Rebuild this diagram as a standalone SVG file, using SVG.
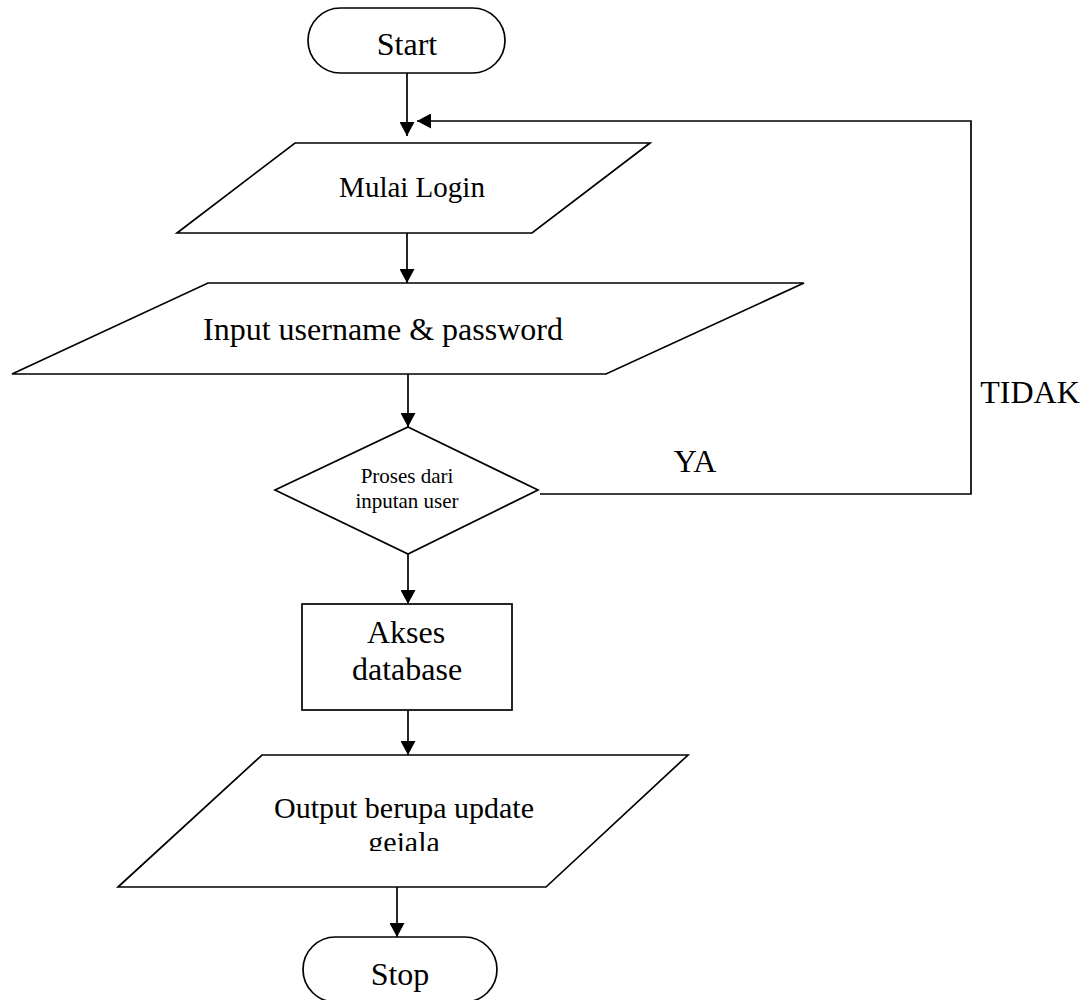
<svg xmlns="http://www.w3.org/2000/svg" width="1085" height="1000" viewBox="0 0 1085 1000">
  <style>
    .shape { fill: #ffffff; stroke: #000000; stroke-width: 1.7; stroke-linejoin: miter; }
    .wire { fill: none; stroke: #000000; stroke-width: 1.7; marker-end: url(#head); }
    .wire-plain { fill: none; stroke: #000000; stroke-width: 1.7; }
    .lbl { font-family: "Liberation Serif", "Times New Roman", serif; fill: #000000; text-anchor: middle; }
    .big { font-size: 32px; }
    .mid { font-size: 29px; }
    .small { font-size: 21px; }
  </style>
  <defs>
    <marker id="head" viewBox="0 0 14 15" refX="14" refY="7.5" markerWidth="14" markerHeight="15" markerUnits="userSpaceOnUse" orient="auto">
      <path d="M0,0 L14,7.5 L0,15 z" fill="#000000"/>
    </marker>
    <clipPath id="outputClip">
      <rect x="100" y="760" width="600" height="91"/>
    </clipPath>
  </defs>
  <rect width="1085" height="1000" fill="#ffffff"/>

  <!-- connectors -->
  <g id="connectors">
    <line class="wire" x1="407" y1="73" x2="407" y2="136"/>
    <polyline class="wire" points="540,494 971,494 971,121 417,121"/>
    <line class="wire" x1="407" y1="228" x2="407" y2="283"/>
    <line class="wire" x1="408" y1="364" x2="408" y2="427"/>
    <line class="wire" x1="408" y1="551" x2="408" y2="604"/>
    <line class="wire" x1="408" y1="700" x2="408" y2="755"/>
    <line class="wire" x1="397" y1="882" x2="397" y2="937"/>
    <text class="lbl big" x="695" y="472">YA</text>
    <text class="lbl big" x="1030" y="403">TIDAK</text>
  </g>

  <!-- terminator: start -->
  <g id="start">
    <rect class="shape" x="308" y="8" width="197" height="65" rx="32.5" ry="32.5"/>
    <text class="lbl big" x="407" y="55">Start</text>
  </g>

  <!-- input/output: begin login -->
  <g id="mulai-login">
    <polygon class="shape" points="295,143 650,143 532,233 177,233"/>
    <text class="lbl mid" x="412" y="197">Mulai Login</text>
  </g>

  <!-- input/output: credentials -->
  <g id="input-credentials">
    <polygon class="shape" points="208,283 804,283 606,374 12,374"/>
    <text class="lbl big" x="383" y="340">Input username &amp; password</text>
  </g>

  <!-- decision -->
  <g id="proses">
    <polygon class="shape" points="408,427 538,490 408,554 275,490"/>
    <text class="lbl small" x="407" y="483">Proses dari</text>
    <text class="lbl small" x="407" y="508">inputan user</text>
  </g>

  <!-- process: database access -->
  <g id="akses-database">
    <rect class="shape" x="302" y="604" width="210" height="106"/>
    <text class="lbl big" x="406" y="643">Akses</text>
    <text class="lbl big" x="407" y="680">database</text>
  </g>

  <!-- input/output: result -->
  <g id="output-update">
    <polygon class="shape" points="262,755 688,755 546,887 118,887"/>
    <text class="lbl mid" x="404" y="818" style="font-size:30px">Output berupa update</text>
    <g clip-path="url(#outputClip)">
      <text class="lbl mid" x="404" y="852" style="font-size:30px">gejala</text>
    </g>
  </g>

  <!-- terminator: stop -->
  <g id="stop">
    <rect class="shape" x="303" y="937" width="194" height="65" rx="32.5" ry="32.5"/>
    <text class="lbl big" x="400" y="985">Stop</text>
  </g>
</svg>
